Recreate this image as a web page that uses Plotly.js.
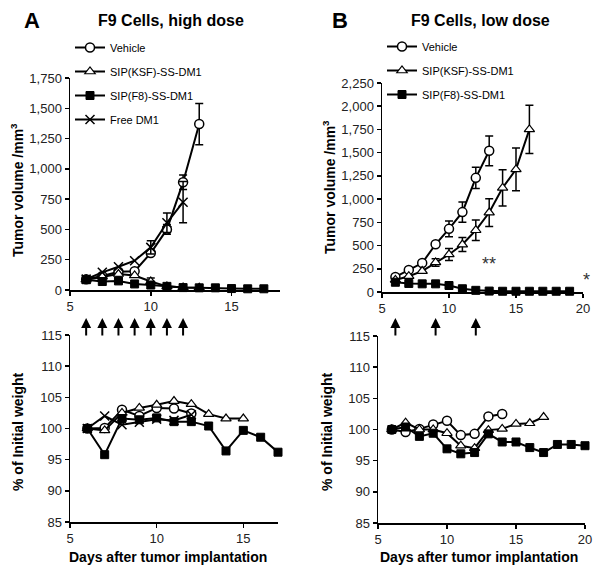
<!DOCTYPE html>
<html>
<head>
<meta charset="utf-8">
<script src="https://cdn.plot.ly/plotly-3.0.1.min.js"></script>
<style>html,body{margin:0;padding:0;background:#fff;}#chart{width:615px;height:572px;}</style>
</head>
<body>
<div id="chart"></div>
<script>
// ---------- Data ----------
const seriesNames = ["Vehicle", "SIP(KSF)-SS-DM1", "SIP(F8)-SS-DM1", "Free DM1"];

// Panel A, tumor volume (mm3), high dose
const daysA_vehicle = [6, 7, 8, 9, 10, 11, 12, 13];
const volA_vehicle  = [88, 115, 150, 155, 305, 500, 890, 1370];
const errA_vehicle  = [NaN, NaN, NaN, NaN, NaN, 40, 60, 170];
const daysA_ksf = [6, 7, 8, 9, 10, 11, 12, 13];
const volA_ksf  = [85, 110, 132, 120, 70, 30, 20, 18];
const errA_ksf  = [NaN, NaN, NaN, NaN, 30, NaN, NaN, NaN];
const daysA_f8 = [6, 7, 8, 9, 10, 11, 12, 13, 14, 15, 16, 17];
const volA_f8  = [85, 70, 75, 50, 41, 30, 20, 18, 18, 12, 10, 10];
const daysA_free = [6, 7, 8, 9, 10, 11, 12];
const volA_free  = [90, 146, 192, 242, 352, 555, 725];
const errA_free  = [NaN, NaN, NaN, NaN, 55, 80, 170];

// Panel A, body weight (% of initial)
const wDaysA_vehicle = [6, 7, 8, 9, 10, 11, 12];
const wA_vehicle     = [100, 100.1, 103, 102, 103.3, 103.2, 102.4];
const wDaysA_ksf = [6, 7, 8, 9, 10, 11, 12, 13, 14, 15];
const wA_ksf     = [100, 99.7, 102.5, 103.3, 103.8, 104.4, 103.9, 102.3, 101.6, 101.6];
const wDaysA_f8 = [6, 7, 8, 9, 10, 11, 12, 13, 14, 15, 16, 17];
const wA_f8     = [100, 95.8, 101.6, 101.4, 101.7, 101.1, 101.1, 100.4, 96.4, 99.7, 98.6, 96.2];
const wDaysA_free = [6, 7, 8, 9, 10, 11, 12];
const wA_free     = [100, 102, 100.6, 101, 101.5, 101.3, 102.2];

// Panel B, tumor volume (mm3), low dose
const daysB_vehicle = [6, 7, 8, 9, 10, 11, 12, 13];
const volB_vehicle  = [162, 238, 312, 514, 680, 860, 1229, 1520];
const errB_vehicle  = [NaN, NaN, NaN, NaN, 85, 110, 115, 160];
const daysB_ksf = [6, 7, 8, 9, 10, 11, 12, 13, 14, 15, 16];
const volB_ksf  = [130, 170, 225, 318, 404, 511, 665, 855, 1121, 1320, 1750];
const errB_ksf  = [NaN, NaN, NaN, 40, 65, 75, 110, 150, 195, 230, 260];
const daysB_f8 = [6, 7, 8, 9, 10, 11, 12, 13, 14, 15, 16, 17, 18, 19];
const volB_f8  = [105, 92, 88, 88, 70, 35, 18, 10, 8, 8, 8, 8, 8, 8];

// Panel B, body weight (% of initial)
const wDaysB_vehicle = [6, 7, 8, 9, 10, 11, 12, 13, 14];
const wB_vehicle     = [100, 99.6, 100.1, 100.8, 101.4, 99.1, 99.3, 102.1, 102.5];
const wDaysB_ksf = [6, 7, 8, 9, 10, 11, 12, 13, 14, 15, 16, 17];
const wB_ksf     = [100, 101.1, 100, 100, 99.4, 97.4, 97, 99.9, 100.1, 100.9, 101, 102];
const wDaysB_f8 = [6, 7, 8, 9, 10, 11, 12, 13, 14, 15, 16, 17, 18, 19, 20];
const wB_f8     = [100, 100.4, 98.9, 99.4, 96.9, 96.1, 96.3, 99.3, 98, 98, 97.1, 96.3, 97.6, 97.6, 97.4];

// Treatment days (arrows)
const doseDaysA = [6, 7, 8, 9, 10, 11, 12];
const doseDaysB = [6, 9, 12];

// Significance marks
const sigText = ["**", "*"];
const sigX = [13, 20];
const sigY = [300, 130];
const sigShift = [0, 3];

// ---------- Styles ----------
const FONT = "Liberation Sans, Arial, sans-serif";
const W = 615, H = 572;
const px = v => v / W;
const py = v => 1 - v / H;

const styles = {
  vehicle: {symbol: "circle", size: 9, color: "#fff", line: {color: "#000", width: 1.5}},
  ksf: {symbol: "triangle-up", size: 9, color: "#fff", line: {color: "#000", width: 1.2}},
  f8: {symbol: "square", size: 8, color: "#000", line: {color: "#000", width: 1}},
  free: {symbol: "x-thin-open", size: 9, color: "#000", line: {color: "#000", width: 1.5}}
};
function errObj(arr) {
  return arr ? {type: "data", array: arr, visible: true, color: "#000", thickness: 1.5, width: 4} : {visible: false};
}
function tr(x, y, key, name, xa, ya, opts) {
  opts = opts || {};
  return {
    type: "scatter", mode: "lines+markers", x: x, y: y, name: name,
    xaxis: xa, yaxis: ya, cliponaxis: false,
    line: {color: "#000", width: 2},
    marker: styles[key],
    error_y: errObj(opts.err),
    showlegend: !!opts.legend, legend: opts.legend || "legend",
    legendgroup: (opts.legend || "l") + key
  };
}

const traces = [
  // Panel A top
  tr(daysA_vehicle, volA_vehicle, "vehicle", seriesNames[0], "x", "y", {err: errA_vehicle, legend: "legend"}),
  tr(daysA_ksf, volA_ksf, "ksf", seriesNames[1], "x", "y", {err: errA_ksf, legend: "legend"}),
  tr(daysA_f8, volA_f8, "f8", seriesNames[2], "x", "y", {legend: "legend"}),
  tr(daysA_free, volA_free, "free", seriesNames[3], "x", "y", {err: errA_free, legend: "legend"}),
  // Panel A bottom
  tr(wDaysA_vehicle, wA_vehicle, "vehicle", seriesNames[0], "x2", "y2"),
  tr(wDaysA_free, wA_free, "free", seriesNames[3], "x2", "y2"),
  tr(wDaysA_ksf, wA_ksf, "ksf", seriesNames[1], "x2", "y2"),
  tr(wDaysA_f8, wA_f8, "f8", seriesNames[2], "x2", "y2"),
  // Panel B top
  tr(daysB_vehicle, volB_vehicle, "vehicle", seriesNames[0], "x3", "y3", {err: errB_vehicle, legend: "legend2"}),
  tr(daysB_ksf, volB_ksf, "ksf", seriesNames[1], "x3", "y3", {err: errB_ksf, legend: "legend2"}),
  tr(daysB_f8, volB_f8, "f8", seriesNames[2], "x3", "y3", {legend: "legend2"}),
  // Panel B bottom
  tr(wDaysB_vehicle, wB_vehicle, "vehicle", seriesNames[0], "x4", "y4"),
  tr(wDaysB_ksf, wB_ksf, "ksf", seriesNames[1], "x4", "y4"),
  tr(wDaysB_f8, wB_f8, "f8", seriesNames[2], "x4", "y4")
];

const tickFont = {family: FONT, size: 13, color: "#222"};
function xax(domain, range, tickvals, anchor) {
  return {domain: domain, range: range, anchor: anchor, tickvals: tickvals, ticks: "outside", ticklen: 4,
          tickwidth: 1.5, tickcolor: "#000", showline: true, linecolor: "#000", linewidth: 1.5,
          showgrid: false, zeroline: false, tickfont: tickFont, fixedrange: true};
}
function yax(domain, range, dtick, anchor, sep) {
  return {domain: domain, range: range, anchor: anchor, dtick: dtick, tick0: range[0], ticks: "outside", ticklen: 4,
          tickwidth: 1.5, tickcolor: "#000", showline: true, linecolor: "#000", linewidth: 1.5,
          showgrid: false, zeroline: false, tickfont: tickFont, separatethousands: !!sep,
          tickformat: sep ? ",d" : "d", fixedrange: true};
}

const annotations = [];
function txt(text, x, y, size, opts) {
  annotations.push(Object.assign({xref: "paper", yref: "paper", x: px(x), y: py(y), text: text,
    showarrow: false, xanchor: "center", yanchor: "middle",
    font: {family: FONT, size: size, color: "#000"}}, opts || {}));
}
txt("<b>A</b>", 32, 21, 22);
txt("<b>F9 Cells, high dose</b>", 171, 21, 16);
txt("<b>B</b>", 340, 21, 22);
txt("<b>F9 Cells, low dose</b>", 480, 21, 16);
txt("<b>Tumor volume /mm<sup>3</sup></b>", 17, 190, 14, {textangle: -90});
txt("<b>Tumor volume /mm<sup>3</sup></b>", 329, 187, 14, {textangle: -90});
txt("<b>% of Initial weight</b>", 18, 432, 14, {textangle: -90});
txt("<b>% of Initial weight</b>", 327, 432, 14, {textangle: -90});
txt("<b>Days after tumor implantation</b>", 168, 557, 14);
txt("<b>Days after tumor implantation</b>", 479, 557, 14);

doseDaysA.forEach(d => annotations.push({xref: "x", yref: "paper", x: d, y: py(318), ax: 0, ay: 19,
  showarrow: true, arrowhead: 2, arrowsize: 1, arrowwidth: 2, arrowcolor: "#000", text: ""}));
doseDaysB.forEach(d => annotations.push({xref: "x3", yref: "paper", x: d, y: py(318), ax: 0, ay: 19,
  showarrow: true, arrowhead: 2, arrowsize: 1, arrowwidth: 2, arrowcolor: "#000", text: ""}));
sigText.forEach((t, i) => annotations.push({xref: "x3", yref: "y3", x: sigX[i], y: sigY[i], text: t,
  xshift: sigShift[i], showarrow: false, font: {family: FONT, size: 18, color: "#333"}}));

const legendBase = {xanchor: "left", yanchor: "top", bgcolor: "rgba(0,0,0,0)", borderwidth: 0,
  font: {family: FONT, size: 11, color: "#000"}, traceorder: "grouped", tracegroupgap: 5, itemwidth: 30};

const layout = {
  width: W, height: H, margin: {l: 0, r: 0, t: 0, b: 0},
  paper_bgcolor: "#fff", plot_bgcolor: "#fff",
  font: {family: FONT, color: "#000"},
  showlegend: true,
  legend: Object.assign({}, legendBase, {x: px(70), y: py(33)}),
  legend2: Object.assign({}, legendBase, {x: px(382), y: py(32)}),
  xaxis: xax([px(70), px(280)], [5, 18], [5, 10, 15], "y"),
  yaxis: yax([py(290), py(78)], [0, 1750], 250, "x", true),
  xaxis2: xax([px(70), px(278)], [5, 17], [5, 10, 15], "y2"),
  yaxis2: yax([py(522), py(335)], [85, 115], 5, "x2"),
  xaxis3: xax([px(382), px(583)], [5, 20], [5, 10, 15, 20], "y3"),
  yaxis3: yax([py(292), py(83)], [0, 2250], 250, "x3", true),
  xaxis4: xax([px(378), px(585)], [5, 20], [5, 10, 15, 20], "y4"),
  yaxis4: yax([py(523), py(336)], [85, 115], 5, "x4"),
  annotations: annotations
};

Plotly.newPlot("chart", traces, layout, {displayModeBar: false, staticPlot: true});
</script>
</body>
</html>
